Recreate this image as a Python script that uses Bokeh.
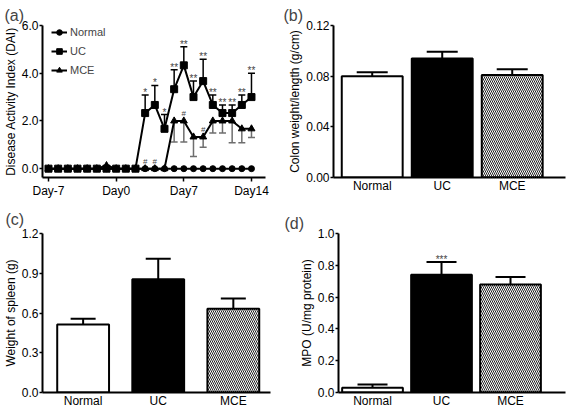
from bokeh.plotting import figure
from bokeh.layouts import column, row
from bokeh.models import Range1d, FixedTicker, Legend, LegendItem, PrintfTickFormatter
from bokeh.embed import file_html
from bokeh.resources import INLINE
from bokeh.core.properties import value

FONT = "Liberation Sans"

# ---------------- data: panel (a) DAI time course ----------------
days = list(range(-7, 15))
day_ticks = [-7, 0, 7, 14]
day_labels = ["Day-7", "Day0", "Day7", "Day14"]
normal_dai = [0.0] * 22
uc_dai = [0.0] * 10 + [2.33, 2.67, 1.67, 3.33, 4.33, 3.0, 3.67, 2.67, 2.33, 2.33, 2.67, 3.0]
uc_err = [0.0] * 10 + [0.76, 0.82, 0.60, 0.82, 0.78, 0.67, 0.92, 0.42, 0.34, 0.34, 0.42, 1.0]
mce_dai = [0.0] * 6 + [0.13] + [0.0] * 6 + [2.0, 2.0, 1.33, 1.33, 2.0, 2.0, 2.0, 1.67, 1.67]
mce_err = [0.0] * 13 + [0.88, 0.88, 0.82, 0.43, 0.5, 0.5, 0.91, 0.58, 0.36]
star_days = list(range(3, 15))
star_text = ["*", "*", "*"] + ["**"] * 9
hash_days = [3, 4, 7, 9]

# ---------------- data: bar panels ----------------
groups = ["Normal", "UC", "MCE"]
colon = [0.080, 0.094, 0.081]
colon_err = [0.003, 0.0052, 0.0045]
spleen = [0.513, 0.854, 0.632]
spleen_err = [0.043, 0.156, 0.078]
mpo = [0.03, 0.74, 0.68]
mpo_err = [0.02, 0.08, 0.046]
mpo_sig = ["", "***", ""]


def style_axes(p):
    for ax in (p.xaxis[0], p.yaxis[0]):
        ax.axis_line_width = 2
        ax.axis_line_color = "black"
        ax.major_tick_line_width = 1.5
        ax.major_tick_in = 0
        ax.major_tick_out = 3
        ax.minor_tick_line_color = None
        ax.major_label_text_font = FONT
        ax.major_label_text_font_size = "12px"
        ax.major_label_text_color = "black"
        ax.axis_label_text_font = FONT
        ax.axis_label_text_font_size = "12px"
        ax.axis_label_text_font_style = "normal"
        ax.axis_label_text_color = "black"
        ax.major_label_standoff = 1
        ax.axis_label_standoff = 1
    p.xgrid.grid_line_color = None
    p.ygrid.grid_line_color = None
    p.outline_line_color = None
    p.background_fill_color = "white"
    p.border_fill_color = "white"


def panel_title(p, text, offset, standoff):
    p.title.text = text
    p.title.text_font = FONT
    p.title.text_font_size = "16px"
    p.title.text_font_style = "normal"
    p.title.align = "left"
    p.title.offset = offset
    p.title.standoff = standoff


# ---------------- panel (a) ----------------
pa = figure(width=280, height=200, output_backend="svg", toolbar_location=None,
            x_range=Range1d(-7.62, 15.45), y_range=Range1d(-0.37, 6.0),
            min_border_left=42, min_border_right=15, min_border_top=25, min_border_bottom=22)
style_axes(pa)
panel_title(pa, "(a)", -38, 4)
pa.yaxis.axis_label = "Disease Activity Index (DAI)"
pa.yaxis.ticker = FixedTicker(ticks=[0, 2, 4, 6])
pa.yaxis.formatter = PrintfTickFormatter(format="%.1f")
pa.xaxis.ticker = FixedTicker(ticks=day_ticks)
pa.xaxis.major_label_overrides = {t: l for t, l in zip(day_ticks, day_labels)}
pa.xaxis.major_tick_out = 4
pa.xaxis.major_label_standoff = 2

# error bars
uc_idx = [i for i, e in enumerate(uc_err) if e > 0]
ux = [days[i] for i in uc_idx]
uy0 = [uc_dai[i] for i in uc_idx]
uy1 = [uc_dai[i] + uc_err[i] for i in uc_idx]
pa.segment(x0=ux, y0=uy0, x1=ux, y1=uy1, line_color="black", line_width=1.5)
pa.scatter(x=ux, y=uy1, marker="dash", size=7, line_color="black", line_width=1.5)
mce_idx = [i for i, e in enumerate(mce_err) if e > 0]
mx = [days[i] for i in mce_idx]
my0 = [mce_dai[i] for i in mce_idx]
my1 = [mce_dai[i] - mce_err[i] for i in mce_idx]
pa.segment(x0=mx, y0=my0, x1=mx, y1=my1, line_color="#6e6e6e", line_width=1.5)
pa.scatter(x=mx, y=my1, marker="dash", size=7, line_color="#6e6e6e", line_width=1.5)

ln_n = pa.line(days, normal_dai, line_color="black", line_width=2)
mk_n = pa.scatter(days, normal_dai, marker="circle", size=6, color="black")
ln_u = pa.line(days, uc_dai, line_color="black", line_width=2)
mk_u = pa.scatter(days, uc_dai, marker="square", size=7, color="black")
ln_m = pa.line(days, mce_dai, line_color="black", line_width=2)
mk_m = pa.scatter(days, mce_dai, marker="triangle", size=7, color="black")

# significance marks
sy = [uc_dai[days.index(d)] + uc_err[days.index(d)] for d in star_days]
pa.text(x=star_days, y=sy, text=star_text, text_font=value(FONT), text_font_size="10px",
        text_align="center", text_baseline="bottom", y_offset=3, text_color="#444444")
hy = [mce_dai[days.index(d)] for d in hash_days]
pa.text(x=hash_days, y=hy, text=["#"] * len(hash_days), text_font=value(FONT), text_font_size="8px",
        text_align="center", text_baseline="bottom", y_offset=-3, text_color="#444444")

leg = Legend(items=[LegendItem(label="Normal", renderers=[ln_n, mk_n]),
                    LegendItem(label="UC", renderers=[ln_u, mk_u]),
                    LegendItem(label="MCE", renderers=[ln_m, mk_m])],
             location=(9, 100))
leg.border_line_color = None
leg.background_fill_alpha = 0
leg.label_text_font = FONT
leg.label_text_font_size = "11px"
leg.glyph_width = 16
leg.glyph_height = 14
leg.label_height = 14
leg.spacing = 5
leg.padding = 0
leg.margin = 0
leg.label_standoff = 3
pa.add_layout(leg)


# ---------------- bar panels ----------------
def bar_panel(title, vals, errs, ylabel, ymax, ticks, fmt, xr, bw, cap,
              w, h, bl, br, bt, bb, toff, tstand, sig=None):
    xs = list(range(len(groups)))
    p = figure(width=w, height=h, output_backend="svg", toolbar_location=None,
               x_range=Range1d(*xr), y_range=Range1d(0, ymax),
               min_border_left=bl, min_border_right=br, min_border_top=bt, min_border_bottom=bb)
    style_axes(p)
    panel_title(p, title, toff, tstand)
    p.yaxis.axis_label = ylabel
    p.yaxis.ticker = FixedTicker(ticks=ticks)
    p.yaxis.formatter = PrintfTickFormatter(format=fmt)
    p.xaxis.ticker = FixedTicker(ticks=xs)
    p.xaxis.major_label_overrides = {i: g for i, g in enumerate(groups)}
    p.xaxis.major_tick_line_color = None
    p.xaxis.major_tick_out = 0
    p.xaxis.major_label_standoff = 1
    tops = [v + e for v, e in zip(vals, errs)]
    p.segment(x0=xs, y0=vals, x1=xs, y1=tops, line_color="black", line_width=2)
    p.scatter(x=xs, y=tops, marker="dash", size=cap, line_color="black", line_width=2)
    p.vbar(x=xs, top=vals, bottom=0, width=bw,
           fill_color=["white", "black", "white"], line_color="black", line_width=2,
           hatch_pattern=[" ", " ", "\\"], hatch_color="#222222", hatch_scale=4, hatch_weight=1)
    if sig:
        p.text(x=xs, y=tops, text=sig, text_font=value(FONT), text_font_size="10px",
               text_align="center", text_baseline="bottom", y_offset=3, text_color="#444444")
    return p


pb = bar_panel("(b)", colon, colon_err, "Colon weight/length (g/cm)", 0.12,
               [0, 0.04, 0.08, 0.12], "%.2f", (-0.553, 2.761), 0.87, 31,
               287, 200, 53, 2, 25, 17, -50, 4)
pc = bar_panel("(c)", spleen, spleen_err, "Weight of spleen (g)", 1.2,
               [0, 0.3, 0.6, 0.9, 1.2], "%.1f", (-0.541, 2.495), 0.69, 25,
               280, 210, 40, 10, 33, 18, -37, 11)
pd = bar_panel("(d)", mpo, mpo_err, "MPO (U/mg protein)", 1.0,
               [0, 0.2, 0.4, 0.6, 0.8, 1.0], "%.1f", (-0.493, 2.797), 0.88, 30,
               287, 210, 58, 2, 25, 18, -54, 3, sig=mpo_sig)

layout = column(row(pa, pb), row(pc, pd))
open("out.html", "w").write(file_html(layout, INLINE))
